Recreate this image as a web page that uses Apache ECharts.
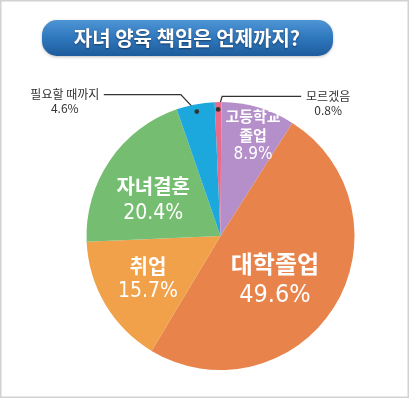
<!DOCTYPE html>
<html><head><meta charset="utf-8">
<script src="https://cdn.jsdelivr.net/npm/echarts@6/dist/echarts.min.js"></script>
<style>html,body{margin:0;padding:0;background:#fff}#c{width:409px;height:398px}</style>
</head><body><div id="c"></div>
<script>
// ---- data ----
const titleText = '자녀 양육 책임은 언제까지?';
const categories = ['모르겠음', '고등학교\n졸업', '대학졸업', '취업', '자녀결혼', '필요할 때까지'];
const values = [0.8, 8.9, 49.6, 15.7, 20.4, 4.6];

// ---- styles / layout config (kept separate from data) ----
const colors = ['#ea6a8c', '#b58fc9', '#e8844b', '#f1a149', '#75bd70', '#1ca8dc'];
const labelCfg = [
  { outside: true, rise: [4, -13], run: 79, textOff: 27 },
  { angle: 1.5, rf: 0.79, size: 15, numSize: 17, lh: 19 },
  { angle: 7, rf: 0.52, size: 24, numSize: 25, lh: 31 },
  { angle: 0, rf: 0.63, size: 20, numSize: 21, lh: 25 },
  { angle: -6, rf: 0.57, size: 20, numSize: 21, lh: 27 },
  { outside: true, rise: [-16, -17], run: -77, textOff: -39 }
];
const KR = '"Noto Sans CJK KR", "Noto Sans", sans-serif';
const NUM = '"Liberation Sans Narrow", "DejaVu Sans Condensed", "Noto Sans CJK KR", sans-serif';

const chart = echarts.init(document.getElementById('c'), null, { renderer: 'canvas' });

function geom(i) {
  return chart.getModel().getSeriesByIndex(0).getData().getItemLayout(i);
}
function pt(l, angDeg, rf) {
  const mid = (l.startAngle + l.endAngle) / 2 + angDeg * Math.PI / 180;
  return [l.cx + l.r * rf * Math.cos(mid), l.cy + l.r * rf * Math.sin(mid)];
}

const data = categories.map((name, i) => {
  const c = labelCfg[i];
  const item = { name: name, value: values[i], itemStyle: { color: colors[i] } };
  if (c.outside) {
    item.label = {
      position: 'outside', color: '#333', fontFamily: KR, fontSize: 12, lineHeight: 14,
      formatter: p => p.name + '\n' + p.value.toFixed(1) + '%'
    };
    item.labelLine = { show: true, lineStyle: { color: '#333', width: 1.3 } };
  } else {
    item.label = {
      position: 'inside',
      formatter: p => p.name.split('\n').map(s => '{n|' + s + '}').join('\n') + '\n{v|' + p.value.toFixed(1) + '%}',
      rich: {
        n: { fontFamily: KR, fontSize: c.size, fontWeight: 'bold', color: '#fff', lineHeight: c.lh, align: 'center' },
        v: { fontFamily: NUM, fontSize: c.numSize, color: '#fff', lineHeight: c.lh, align: 'center' }
      }
    };
    item.labelLine = { show: false };
  }
  return item;
});

const baseGraphics = [
  { id: 'frame', type: 'rect', shape: { x: 0.75, y: 0.75, width: 407.5, height: 396.5 },
    style: { fill: 'none', stroke: '#d2d2d2', lineWidth: 1.5 }, z: 0 },
  { id: 'banner', type: 'rect', shape: { x: 42, y: 20, width: 291, height: 36, r: 15 },
    style: { fill: new echarts.graphic.LinearGradient(0, 0, 0, 1, [
      { offset: 0, color: '#4d95d4' }, { offset: 0.5, color: '#2f77bd' }, { offset: 1, color: '#1d5c9c' }]),
      shadowColor: 'rgba(0,0,0,0.25)', shadowBlur: 3, shadowOffsetY: 1 }, z: 1 },
  { id: 'title', type: 'text', x: 187, y: 38,
    style: { text: titleText, fill: '#fff', font: 'bold 20px ' + KR, align: 'center', verticalAlign: 'middle',
      textShadowColor: 'rgba(0,0,0,0.45)', textShadowBlur: 2, textShadowOffsetY: 1 }, z: 2 }
];

chart.setOption({
  animation: false,
  backgroundColor: '#fff',
  graphic: baseGraphics,
  series: [{
    type: 'pie',
    center: [220.5, 236],
    radius: 134,
    startAngle: 92.5,
    clockwise: true,
    avoidLabelOverlap: false,
    silent: true,
    itemStyle: { borderWidth: 0 },
    data: data,
    labelLayout: function (p) {
      const i = p.dataIndex;
      const c = labelCfg[i];
      const l = geom(i);
      if (!l) return {};
      if (!c.outside) {
        const q = pt(l, c.angle, c.rf);
        return { x: q[0], y: q[1], align: 'center', verticalAlign: 'middle' };
      }
      const d = pt(l, 0, 0.945);
      const p1 = [d[0] + c.rise[0], d[1] + c.rise[1]];
      const p2 = [p1[0] + c.run, p1[1]];
      return { x: p2[0] + c.textOff, y: p1[1] - 7, align: 'center', verticalAlign: 'top',
        labelLinePoints: [d, p1, p2] };
    }
  }]
});

const dots = [0, 5].map(i => {
  const q = pt(geom(i), 0, 0.945);
  return { id: 'dot' + i, type: 'circle', shape: { cx: q[0], cy: q[1], r: 2.4 }, style: { fill: '#333' }, z: 100 };
});
chart.setOption({ graphic: baseGraphics.concat(dots) });
</script>
</body></html>
